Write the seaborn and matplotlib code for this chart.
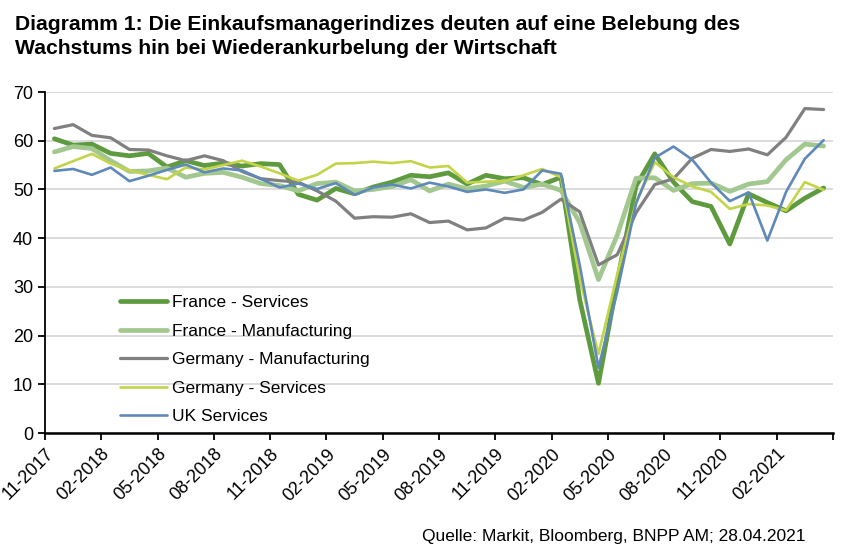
import numpy as np
import pandas as pd
import matplotlib
matplotlib.use('Agg')
import matplotlib.pyplot as plt
import seaborn as sns
from matplotlib import font_manager

# monthly values, 11-2017 .. 04-2021
months = pd.period_range('2017-11', '2021-04', freq='M')

france_services = [60.4, 59.1, 59.3, 57.4, 56.9, 57.4, 54.6, 55.9, 54.9, 55.4, 54.8, 55.3,
                   55.1, 49.0, 47.8, 50.2, 49.1, 50.5, 51.5, 52.9, 52.6, 53.4, 51.1, 52.9,
                   52.2, 52.4, 51.0, 52.5, 27.4, 10.2, 31.1, 50.7, 57.3, 51.5, 47.5, 46.5,
                   38.8, 49.1, 47.3, 45.6, 48.2, 50.3]
france_manufacturing = [57.7, 58.8, 58.4, 55.9, 53.7, 53.8, 54.4, 52.5, 53.3, 53.5, 52.5, 51.2,
                        50.8, 49.7, 51.2, 51.5, 49.7, 50.0, 50.6, 52.0, 49.7, 51.1, 50.1, 50.7,
                        51.7, 50.4, 51.1, 49.8, 43.2, 31.5, 40.6, 52.3, 52.4, 49.8, 51.2, 51.3,
                        49.6, 51.1, 51.6, 56.1, 59.3, 58.9]
germany_manufacturing = [62.5, 63.3, 61.1, 60.6, 58.2, 58.1, 56.9, 55.9, 56.9, 55.9, 53.7, 52.2,
                         51.8, 51.5, 49.7, 47.6, 44.1, 44.4, 44.3, 45.0, 43.2, 43.5, 41.7, 42.1,
                         44.1, 43.7, 45.3, 48.0, 45.4, 34.5, 36.6, 45.2, 51.0, 52.2, 56.4, 58.2,
                         57.8, 58.3, 57.1, 60.7, 66.6, 66.4]
germany_services = [54.3, 55.8, 57.3, 55.3, 53.9, 53.0, 52.1, 54.5, 54.1, 55.0, 55.9, 54.7,
                    53.3, 51.8, 53.0, 55.3, 55.4, 55.7, 55.4, 55.8, 54.5, 54.8, 51.4, 51.6,
                    51.7, 52.9, 54.2, 52.5, 31.7, 16.2, 32.6, 47.3, 55.6, 52.5, 50.6, 49.5,
                    46.0, 47.0, 46.7, 45.7, 51.5, 49.9]
uk_services = [53.8, 54.2, 53.0, 54.5, 51.7, 52.8, 54.0, 55.1, 53.5, 54.3, 53.9, 52.2,
               50.4, 51.2, 50.1, 51.3, 48.9, 50.4, 51.0, 50.2, 51.4, 50.6, 49.5, 50.0,
               49.3, 50.0, 53.9, 53.2, 34.5, 13.4, 29.0, 47.1, 56.5, 58.8, 56.1, 51.4,
               47.6, 49.4, 39.5, 49.5, 56.3, 60.1]

series_names = ['France - Services', 'France - Manufacturing', 'Germany - Manufacturing',
                'Germany - Services', 'UK Services']
series_values = [france_services, france_manufacturing, germany_manufacturing,
                 germany_services, uk_services]
colors = ['#5E9B3F', '#A2C890', '#808080', '#C3D449', '#5F89B8']
widths = [3.4, 3.4, 2.3, 1.9, 1.9]

tick_labels = [m.strftime('%m-%Y') for m in months[::3]]  # 11-2017 ... 02-2021

sns.set_style('white', {'text.color': 'black', 'xtick.color': 'black', 'ytick.color': 'black'})
installed = {f.name for f in font_manager.fontManager.ttflist}
base_font = 'Liberation Sans Narrow' if 'Liberation Sans Narrow' in installed else 'Liberation Sans'
plt.rcParams['font.family'] = [base_font, 'DejaVu Sans']

fig = plt.figure(figsize=(8.45, 5.6), dpi=100)
ax = fig.add_axes([45 / 845, 1 - 433 / 560, (833 - 45) / 845, (433 - 92) / 560])

xpos = np.arange(len(months)) + 0.5
for name, vals, col, lw in zip(series_names, series_values, colors, widths):
    sns.lineplot(x=xpos, y=vals, color=col, linewidth=lw, label=name, ax=ax)

ax.set_xlim(0, len(months))
ax.set_ylim(0, 70)
ax.set_yticks(range(0, 71, 10))
ax.set_yticklabels([str(v) for v in range(0, 71, 10)], fontsize=13)
ax.set_xticks(np.arange(0, len(months) + 1, 3))
ax.set_xticklabels(tick_labels + [''], rotation=45, ha='right',
                   rotation_mode='anchor', fontsize=13)
ax.grid(axis='y', color='#D9D9D9', linewidth=1.3)
ax.set_axisbelow(True)
sns.despine(ax=ax)
ax.spines['left'].set_color('black')
ax.spines['bottom'].set_color('black')
ax.spines['left'].set_linewidth(1.3)
ax.spines['bottom'].set_linewidth(1.8)
ax.tick_params(axis='both', direction='out', length=5, width=1.3, color='black',
               labelcolor='black', left=True, bottom=True)
ax.tick_params(axis='x', pad=4)

leg = ax.legend(loc='upper left', bbox_to_anchor=(120 / 845, 1 - 295 / 560),
                bbox_transform=fig.transFigure, frameon=False, fontsize=12.5,
                handlelength=2.7, handletextpad=0.3, labelspacing=0.77,
                borderaxespad=0, borderpad=0)
for t in leg.get_texts():
    t.set_color('black')

fig.text(15 / 845, 1 - 15 / 560,
         'Diagramm 1: Die Einkaufsmanagerindizes deuten auf eine Belebung des\n'
         'Wachstums hin bei Wiederankurbelung der Wirtschaft',
         fontsize=15.2, fontweight='bold', va='top', ha='left', linespacing=1.3,
         color='black')
fig.text(806 / 845, 1 - 537 / 560, 'Quelle: Markit, Bloomberg, BNPP AM; 28.04.2021',
         fontsize=12.5, ha='right', va='center', color='black')

fig.savefig('out.png', dpi=100)
